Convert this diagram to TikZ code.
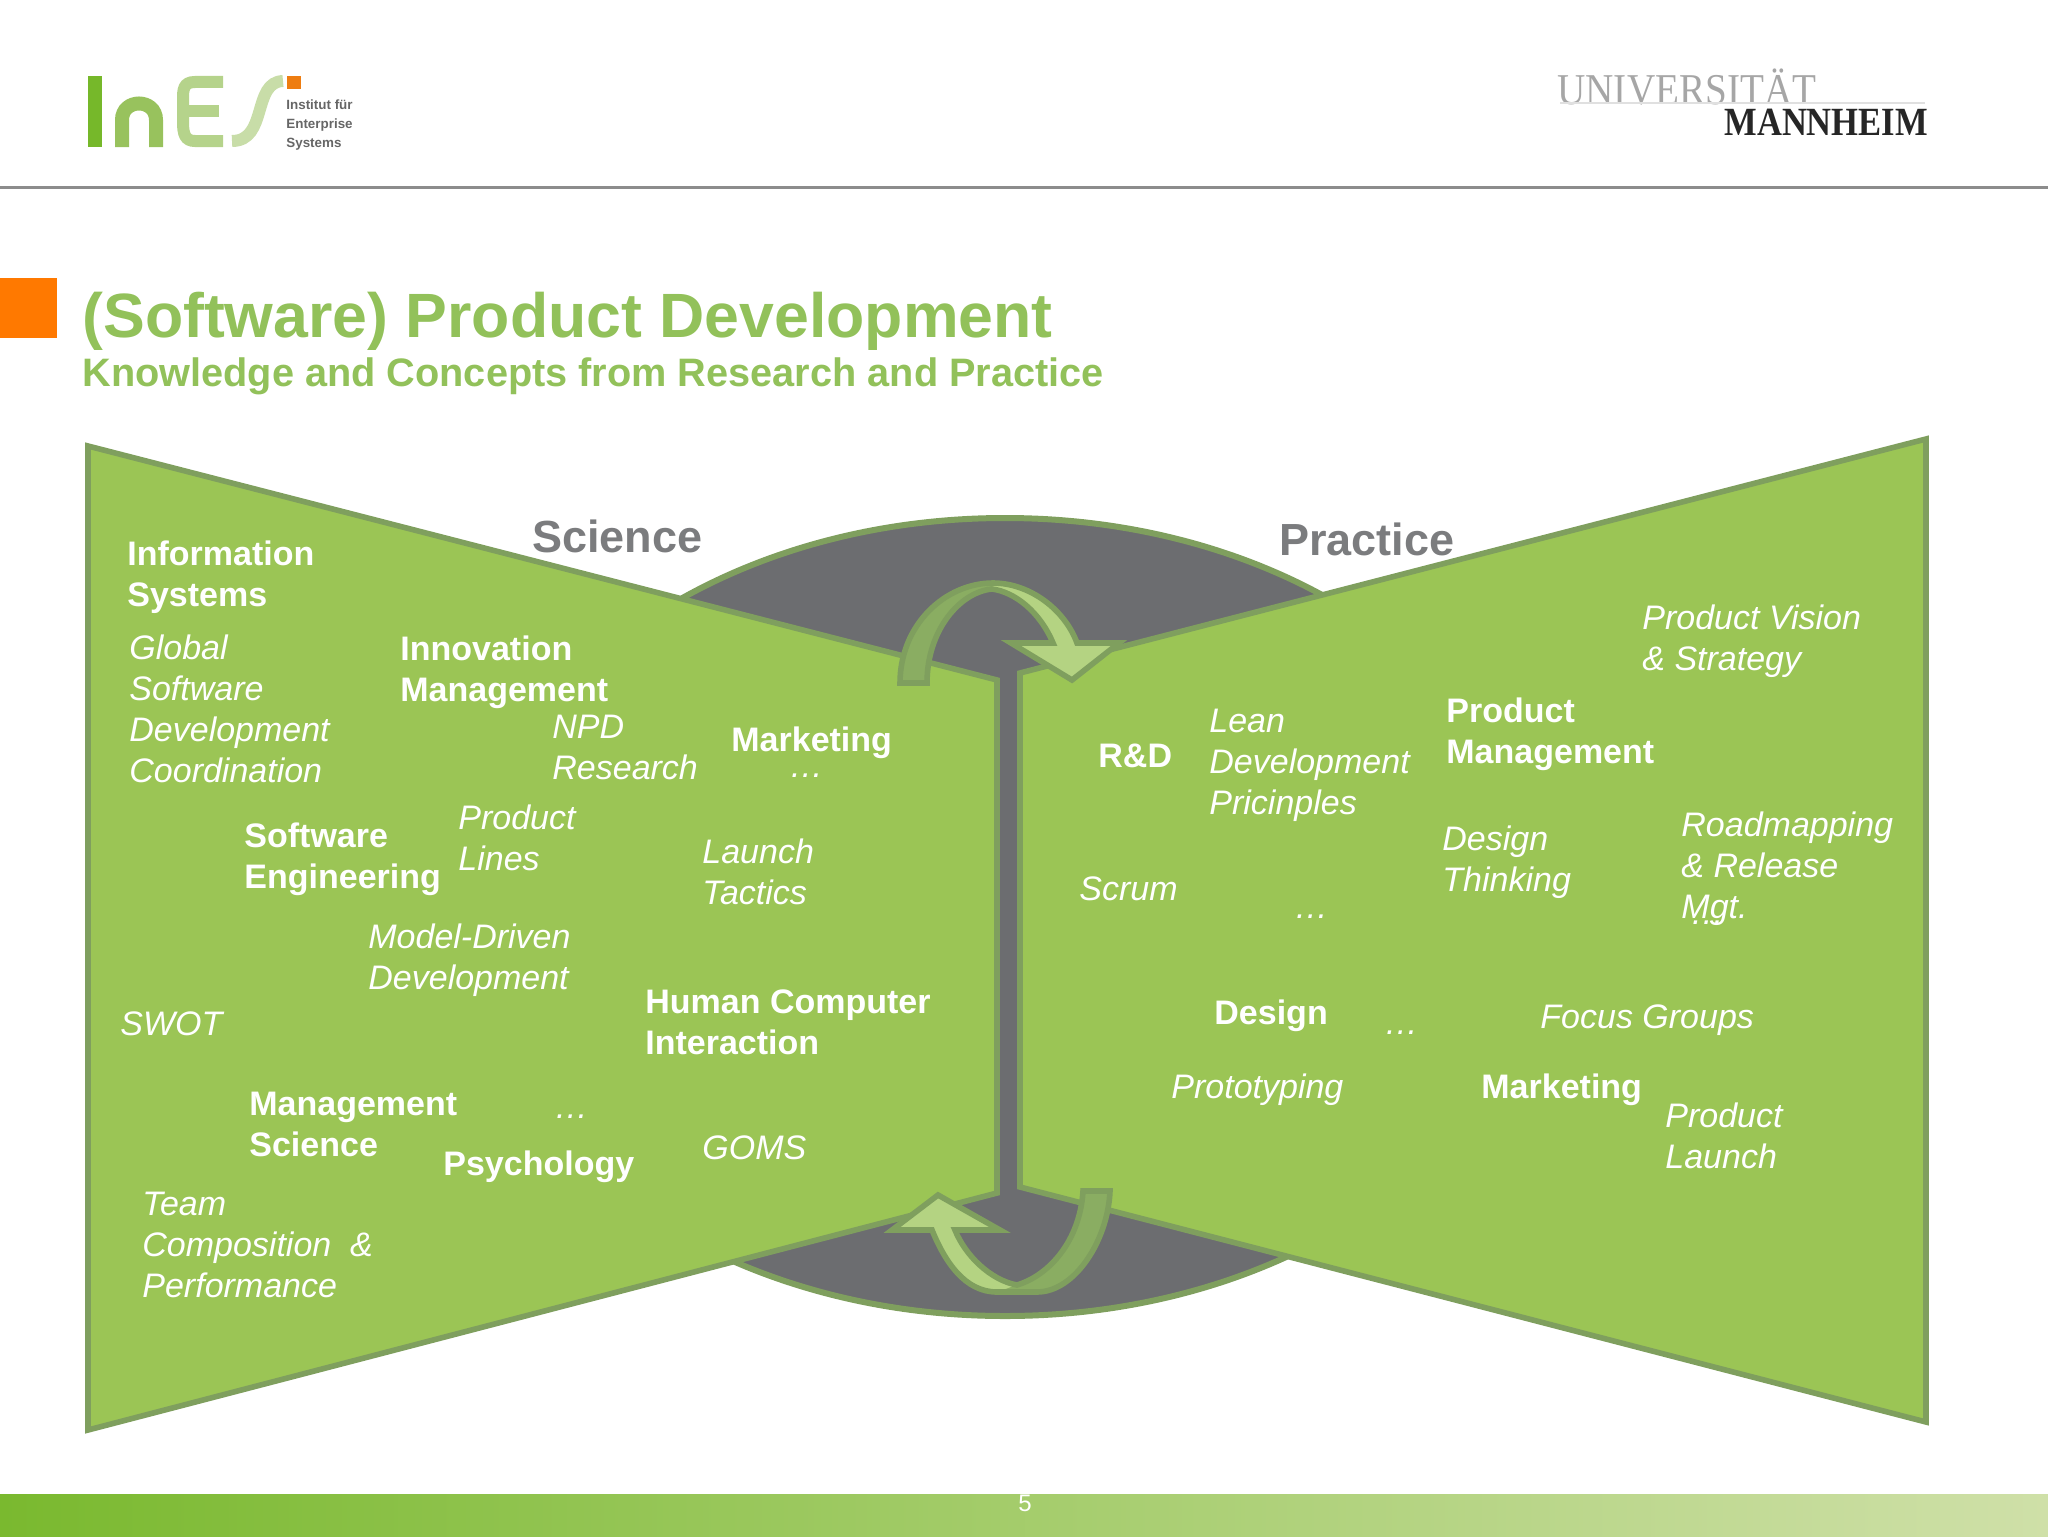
\documentclass[tikz,border=0pt]{standalone}
\usepackage{graphicx,fontspec}
\setmainfont{Liberation Sans}
\newfontfamily\logoserif{Liberation Serif}
\definecolor{panelgreen}{HTML}{9BC555}
\definecolor{edgegreen}{HTML}{7F9F5E}
\definecolor{taildark}{HTML}{8AAD62}
\definecolor{headlight}{HTML}{B4D382}
\definecolor{coregray}{HTML}{6C6D70}
\definecolor{titlegreen}{HTML}{92C15A}
\tikzset{
	field/.style={anchor=west,inner sep=0pt,align=left,text=white,font=\fontsize{17}{20.5}\selectfont\bfseries},
	topic/.style={anchor=west,inner sep=0pt,align=left,text=white,font=\fontsize{17}{20.5}\selectfont\itshape},
	side/.style={anchor=west,inner sep=0pt,text=coregray!90,font=\fontsize{22.5}{26}\selectfont\bfseries},
	panel/.style={draw=edgegreen,fill=panelgreen,line width=2.8pt,line join=miter},
	swirl/.style={draw=edgegreen,line width=2.8pt,line join=miter}
}
\def\toparrow{(900,683) .. controls (900,625) and (945,583) .. (993,583) .. controls (1030,583) and (1065,610) .. (1077,643) -- (1119,643) -- (1072,680) -- (1011,643) -- (1053,643) .. controls (1040,612) and (1015,592) .. (992,589) .. controls (960,592) and (927,630) .. (927,683) -- cycle}
\def\lowarrow{(1110,1191) .. controls (1108,1240) and (1075,1292) .. (1037,1292) -- (997,1292) .. controls (965,1292) and (945,1262) .. (932,1230) -- (892,1230) -- (938,1195) -- (1000,1230) -- (955,1230) .. controls (965,1255) and (990,1280) .. (1017,1285) .. controls (1050,1275) and (1080,1240) .. (1083,1191) -- cycle}
\begin{document}
\begin{tikzpicture}[x=0.5pt,y=-0.5pt]
	\useasboundingbox (0,0) rectangle (2048,1536);
	% header
	\draw[color=black!45,line width=1.5pt] (0,187) -- (2048,187);
	\fill[color=orange!95!red] (0,278) rectangle (57,338);
	% logo left
	\fill[color={rgb,255:red,118;green,184;blue,42}] (88,76) rectangle (102,147);
	\draw[color={rgb,255:red,152;green,194;blue,93},line width=7pt] (122,147) -- (122,120) .. controls (122,98) and (156,98) .. (156,120) -- (156,147);
	\draw[color={rgb,255:red,181;green,211;blue,139},line width=6pt] (223,82) -- (195,82) .. controls (183,82) and (183,90) .. (183,100) -- (183,122) .. controls (183,134) and (185,141) .. (195,141) -- (223,141);
	\draw[color={rgb,255:red,181;green,211;blue,139},line width=6pt] (185,111) -- (219,111);
	\draw[color={rgb,255:red,200;green,221;blue,168},line width=6pt] (232,141) .. controls (268,141) and (252,82) .. (283,81);
	\fill[color={rgb,255:red,238;green,125;blue,17}] (287,76) rectangle (301,89);
	\node[anchor=west,inner sep=0pt,align=left,text=black!60,font=\fontsize{6.7}{9.7}\selectfont\bfseries] (inesname) at (286,125) {Institut für\\Enterprise\\Systems};
	% logo right
	\node[anchor=west,inner sep=0pt,text=black!35,font=\logoserif\fontsize{22}{24}\selectfont] (univname) at (1557,87) {\scalebox{0.89}[1]{UNIVERSITÄT}};
	\node[anchor=west,inner sep=0pt,text=black!85,font=\logoserif\bfseries\fontsize{20}{22}\selectfont] (cityname) at (1724,122) {\scalebox{0.864}[1]{MANNHEIM}};
	\draw[color=black!12,line width=0.8pt] (1560,103) -- (1925,103);
	% title
	\node[anchor=west,inner sep=0pt,text=titlegreen,font=\fontsize{31.3}{36}\selectfont\bfseries] (maintitle) at (82,321) {(Software) Product Development};
	\node[anchor=west,inner sep=0pt,text=titlegreen,font=\fontsize{19.85}{24}\selectfont\bfseries] (subtitle) at (82,376) {Knowledge and Concepts from Research and Practice};
	% core
	\draw[draw=edgegreen,fill=coregray,line width=3pt] (1005,917) ellipse [x radius=537,y radius=399];
	\draw[panel] (88,446) -- (997,680) -- (997,1193) -- (88,1430) -- cycle;
	\draw[panel] (1926,439) -- (1020,673) -- (1020,1187) -- (1926,1422) -- cycle;
	% arrows
	\fill[color=headlight] \toparrow;
	\fill[color=taildark] (900,683) .. controls (900,625) and (945,583) .. (993,583) -- (992,589) .. controls (960,592) and (927,630) .. (927,683) -- cycle;
	\draw[swirl] \toparrow;
	\fill[color=headlight] \lowarrow;
	\fill[color=taildark] (1110,1191) .. controls (1108,1240) and (1075,1292) .. (1037,1292) -- (997,1292) -- (1017,1285) .. controls (1050,1275) and (1080,1240) .. (1083,1191) -- cycle;
	\draw[swirl] \lowarrow;
	% headings
	\node[side] (science) at (532,536) {Science};
	\node[side] (practice) at (1279,539) {Practice};
	% left panel
	\node[field] (infosys) at (127,577) {Information\\Systems};
	\node[field] (innov) at (400,672) {Innovation\\Management};
	\node[field] (mktleft) at (731,743) {Marketing};
	\node[field] (softeng) at (244,859) {Software\\Engineering};
	\node[field] (hci) at (645,1022) {Human Computer\\Interaction};
	\node[field] (mgtsci) at (249,1124) {Management\\Science};
	\node[field] (psych) at (443,1167) {Psychology};
	\node[topic] (gsd) at (129,709) {Global\\Software\\Development\\Coordination};
	\node[topic] (npd) at (552,747) {NPD\\Research};
	\node[topic] (dotsa) at (789,776) {…};
	\node[topic] (prodlines) at (458,838) {Product\\Lines};
	\node[topic] (launchtac) at (702,872) {Launch\\Tactics};
	\node[topic] (mdd) at (368,960) {Model-Driven\\Development};
	\node[topic] (swot) at (120,1024) {SWOT};
	\node[topic] (dotsb) at (554,1117) {…};
	\node[topic] (goms) at (702,1148) {GOMS};
	\node[topic] (team) at (142,1245) {Team\\Composition~~\&\\Performance};
	% right panel
	\node[field] (rnd) at (1098,756) {R\&D};
	\node[field] (prodmgt) at (1446,734) {Product\\Management};
	\node[field] (designb) at (1214,1016) {Design};
	\node[field] (mktright) at (1481,1090) {Marketing};
	\node[topic] (lean) at (1209,765) {Lean\\Development\\Pricinples};
	\node[topic] (scrum) at (1079,889) {Scrum};
	\node[topic] (dotsc) at (1294,917) {…};
	\node[topic] (thinking) at (1442,862) {Design\\Thinking};
	\node[topic] (vision) at (1642,641) {Product Vision\\\& Strategy};
	\node[topic] (roadmap) at (1681,869) {Roadmapping\\\& Release\\Mgt.};
	\node[topic] (dotse) at (1690,923) {…};
	\node[topic] (dotsd) at (1384,1033) {…};
	\node[topic] (focus) at (1540,1020) {Focus Groups};
	\node[topic] (proto) at (1171,1090) {Prototyping};
	\node[topic] (launch) at (1665,1136) {Product\\Launch};
	% footer
	\shade[left color={rgb,255:red,122;green,185;blue,47},middle color=panelgreen,right color={rgb,255:red,207;green,224;blue,168}] (0,1494) rectangle (2048,1536);
	\node[inner sep=0pt,text=white,font=\fontsize{12}{14}\selectfont] (pagenum) at (1025,1503) {5};
\end{tikzpicture}
\end{document}
